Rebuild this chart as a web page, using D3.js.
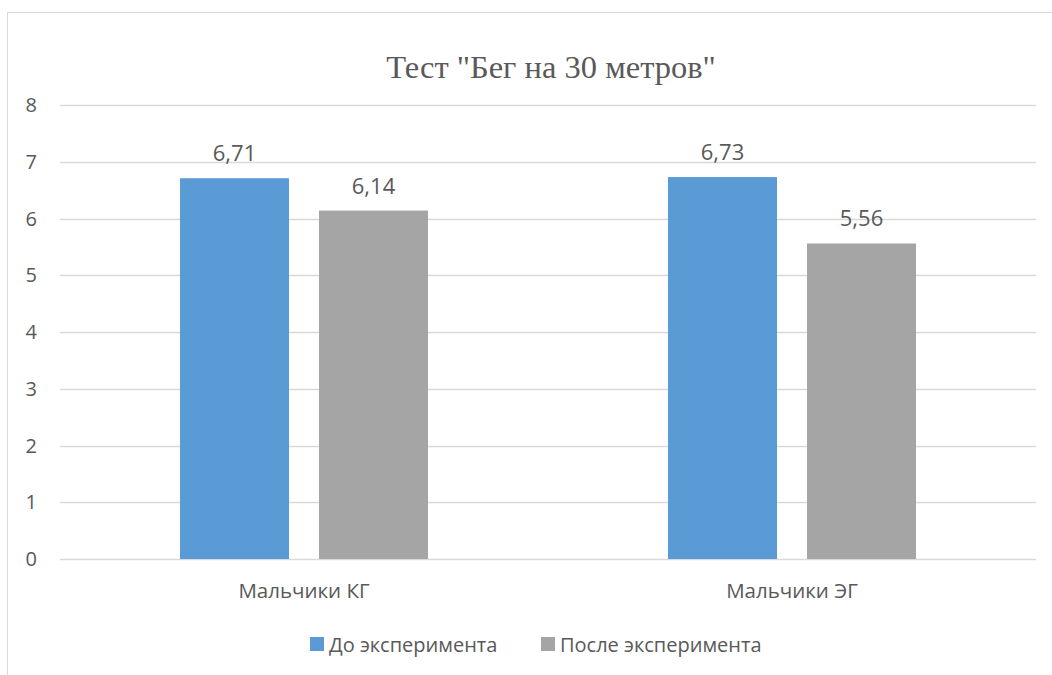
<!DOCTYPE html>
<html>
<head>
<meta charset="utf-8">
<script src="https://cdn.jsdelivr.net/npm/d3@7"></script>
<style>
  body { margin: 0; background: #fff; }
  text { font-family: "Open Sans", "Noto Sans", sans-serif; fill: #595959; }
</style>
</head>
<body>
<div id="viz"></div>
<script>
var categories = ["Мальчики КГ", "Мальчики ЭГ"];
var seriesNames = ["До эксперимента", "После эксперимента"];
var before = [6.71, 6.73];
var after = [6.14, 5.56];
var yTicks = [0, 1, 2, 3, 4, 5, 6, 7, 8];
var colors = ["#5B9BD5", "#A5A5A5"];

var width = 1052,
    height = 675;

var margin = {left: 60, right: 16, top: 105, bottom: 116};

var svg = d3.select("#viz").append("svg")
    .attr("width", width)
    .attr("height", height);

// chart border
svg.append("rect")
    .attr("x", 7.5).attr("y", 12.5)
    .attr("width", 1100).attr("height", 700)
    .attr("fill", "none")
    .attr("stroke", "#d9d9d9");

var x0 = d3.scaleBand()
    .domain(categories)
    .range([margin.left, width - margin.right]);

var y = d3.scaleLinear()
    .domain([0, 8])
    .range([height - margin.bottom, margin.top]);

// gridlines
svg.append("g").selectAll("line")
    .data(yTicks)
  .enter().append("line")
    .attr("x1", margin.left)
    .attr("x2", width - margin.right)
    .attr("y1", function(d) { return Math.round(y(d)) + 0.5; })
    .attr("y2", function(d) { return Math.round(y(d)) + 0.5; })
    .attr("stroke", "#d9d9d9")
    .attr("stroke-width", 1.5);

// y labels
svg.append("g").selectAll("text")
    .data(yTicks)
  .enter().append("text")
    .attr("x", 37)
    .attr("y", function(d) { return y(d); })
    .attr("dy", "0.36em")
    .attr("text-anchor", "end")
    .style("font-size", "20px")
    .text(function(d) { return d; });

var barW = 109, gap = 30;
var data = [];
categories.forEach(function(c, i) {
  data.push({cat: c, s: 0, v: before[i]});
  data.push({cat: c, s: 1, v: after[i]});
});

function barX(d) {
  var cx = x0(d.cat) + x0.bandwidth() / 2;
  return d.s === 0 ? cx - gap / 2 - barW : cx + gap / 2;
}

svg.append("g").selectAll("rect")
    .data(data)
  .enter().append("rect")
    .attr("x", barX)
    .attr("y", function(d) { return y(d.v); })
    .attr("width", barW)
    .attr("height", function(d) { return y(0) - y(d.v); })
    .attr("fill", function(d) { return colors[d.s]; });

// data labels
svg.append("g").selectAll("text")
    .data(data)
  .enter().append("text")
    .attr("x", function(d) { return barX(d) + barW / 2; })
    .attr("y", function(d) { return y(d.v) - 17; })
    .attr("text-anchor", "middle")
    .style("font-size", "22px")
    .text(function(d) { return d3.format(".2f")(d.v).replace(".", ","); });

// category labels
svg.append("g").selectAll("text")
    .data(categories)
  .enter().append("text")
    .attr("x", function(d) { return x0(d) + x0.bandwidth() / 2; })
    .attr("y", 598)
    .attr("text-anchor", "middle")
    .style("font-size", "20.5px")
    .text(function(d) { return d; });

// title
svg.append("text")
    .attr("x", 551)
    .attr("y", 78)
    .attr("text-anchor", "middle")
    .style("font-family", "'Liberation Serif', 'Times New Roman', serif")
    .style("font-size", "32.5px")
    .text('Тест "Бег на 30 метров"');

// legend
var legendX = [310, 541];
var legend = svg.append("g").selectAll("g")
    .data(seriesNames)
  .enter().append("g")
    .attr("transform", function(d, i) { return "translate(" + legendX[i] + ",637)"; });

legend.append("rect")
    .attr("width", 14).attr("height", 14)
    .attr("fill", function(d, i) { return colors[i]; });

legend.append("text")
    .attr("x", 19)
    .attr("y", 14.5)
    .style("font-size", "20px")
    .text(function(d) { return d; });
</script>
</body>
</html>
